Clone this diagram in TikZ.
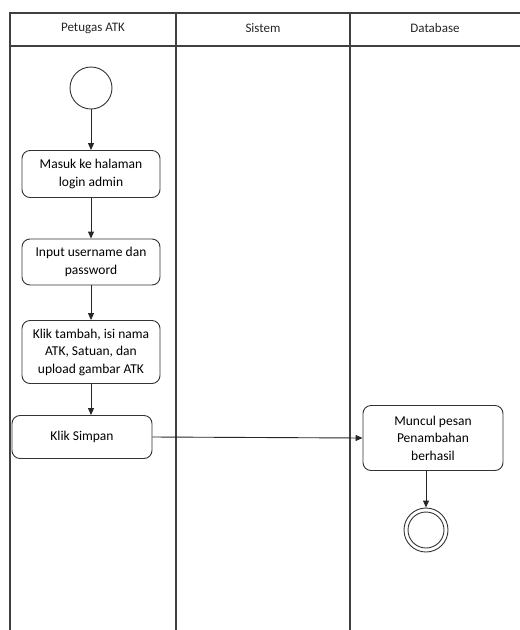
\documentclass[tikz,border=0pt]{standalone}
\usepackage{fontspec}
\setmainfont{Carlito}
\usetikzlibrary{arrows.meta}
\begin{document}
\begin{tikzpicture}[x=1pt,y=-1pt,
  lane/.style={draw=black!75, line width=1.1pt},
  act/.style={draw=black!80, line width=0.9pt, rounded corners=8pt, align=center, font=\fontsize{13.5}{17.5}\selectfont, inner sep=0pt},
  flow/.style={draw=black!85, line width=0.9pt, -{Triangle[length=7pt,width=6pt]}},
  hdr/.style={font=\fontsize{13}{16}\selectfont, text=black!85}
]
\useasboundingbox (0,0) rectangle (520,630);
% swimlanes
\draw[lane] (10,630) -- (10,13) -- (520,13);
\draw[lane] (10,46) -- (520,46);
\draw[lane] (176,13) -- (176,630);
\draw[lane] (350,13) -- (350,630);
\node[hdr] (h1) at (93,28) {Petugas ATK};
\node[hdr] (h2) at (263,28) {Sistem};
\node[hdr] (h3) at (435,28) {Database};
% nodes
\node[draw=black!80, line width=0.9pt, circle, minimum size=42pt, inner sep=0pt] (start) at (91,88) {};
\node[act, minimum width=138pt, minimum height=47pt] (a1) at (91,174) {Masuk ke halaman\\login admin};
\node[act, minimum width=138pt, minimum height=46pt] (a2) at (91,262) {Input username dan\\password};
\node[act, minimum width=138pt, minimum height=63pt] (a3) at (91,352) {Klik tambah, isi nama\\ATK, Satuan, dan\\upload gambar ATK};
\node[act, minimum width=140pt, minimum height=43pt] (a4) at (82,437) {Klik Simpan};
\node[act, minimum width=140pt, minimum height=65pt] (a5) at (433,438) {Muncul pesan\\Penambahan\\berhasil};
\node[draw=black!80, line width=0.9pt, circle, minimum size=44pt, inner sep=0pt] (end) at (426,530) {};
\node[draw=black!80, line width=0.9pt, circle, minimum size=36pt, inner sep=0pt] (endin) at (426,530) {};
% flows
\draw[flow] (start) -- (a1);
\draw[flow] (a1) -- (a2);
\draw[flow] (a2) -- (a3);
\draw[flow] (a3) -- (a3 |- a4.north);
\draw[flow] (a4.east) -- (a5.west);
\draw[flow] (a5.south -| end) -- (end);
\end{tikzpicture}
\end{document}
